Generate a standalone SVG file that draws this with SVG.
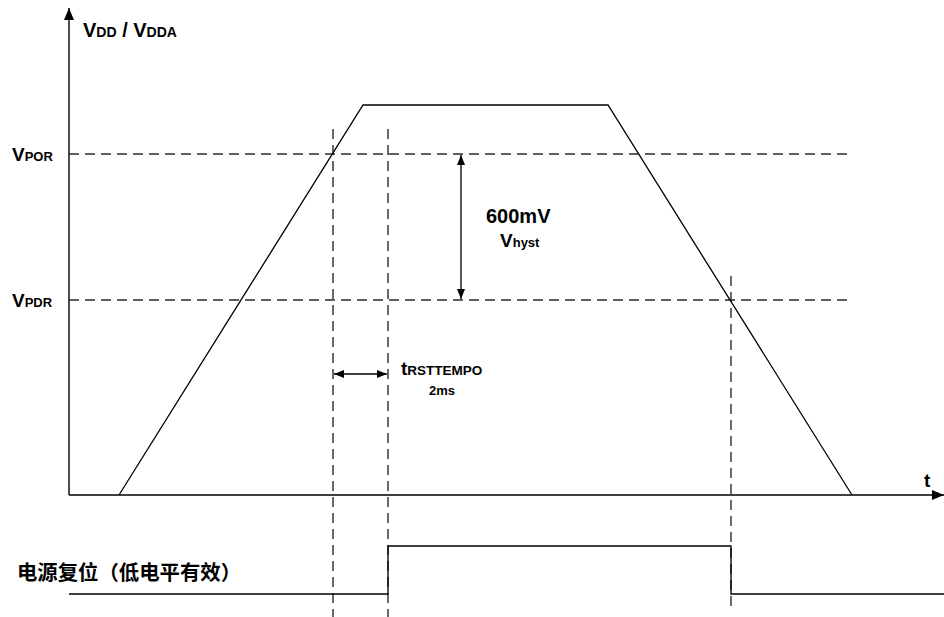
<svg xmlns="http://www.w3.org/2000/svg" width="944" height="617" viewBox="0 0 944 617">
<style>
.ax{stroke:#000;stroke-width:1.4;fill:none}
.sig{stroke:#000;stroke-width:1.3;fill:none}
.dash{stroke:#2a2a2a;stroke-width:1.4;stroke-dasharray:10 6;fill:none}
.t{font-family:"Liberation Sans",Arial,sans-serif;font-weight:bold;fill:#000}
.cjk{font-family:"Liberation Sans","Noto Sans CJK SC",sans-serif;font-weight:bold;fill:#000}
</style>
<defs>
<marker id="ah" viewBox="0 0 10 8" refX="10" refY="4" markerWidth="10" markerHeight="8" markerUnits="userSpaceOnUse" orient="auto-start-reverse">
<path d="M0,0 L10,4 L0,8 Z" fill="#000"/>
</marker>
<marker id="axh" viewBox="0 0 12 10" refX="12" refY="5" markerWidth="12" markerHeight="10" markerUnits="userSpaceOnUse" orient="auto">
<path d="M0,0 L12,5 L0,10 Z" fill="#000"/>
</marker>
</defs>
<rect width="944" height="617" fill="#fff"/>
<g id="connectors">
<line id="y-axis" class="ax" x1="69" y1="495" x2="69" y2="8" marker-end="url(#axh)"/>
<line id="x-axis" class="ax" x1="69" y1="495" x2="944" y2="495" marker-end="url(#axh)"/>
<line class="dash" x1="69" y1="154" x2="852" y2="154"/>
<line class="dash" x1="69" y1="300" x2="852" y2="300"/>
<line class="dash" x1="333" y1="129" x2="333" y2="617"/>
<line class="dash" x1="388" y1="129" x2="388" y2="617"/>
<line class="dash" x1="731" y1="276" x2="731" y2="611"/>
<line id="hyst-arrow" class="sig" x1="461" y1="155" x2="461" y2="299" marker-start="url(#ah)" marker-end="url(#ah)"/>
<line id="trst-arrow" class="sig" x1="334" y1="374" x2="387" y2="374" marker-start="url(#ah)" marker-end="url(#ah)"/>
</g>
<g id="vdd-curve">
<polyline class="sig" points="119,495 363,105 608,105 852,495"/>
</g>
<g id="reset-signal">
<polyline class="sig" points="69,594 388,594 388,546 731,546 731,594 944,594"/>
</g>
<g id="labels">
<text class="t" x="83" y="37" font-size="20">V<tspan font-size="14">DD</tspan> / V<tspan font-size="14">DDA</tspan></text>
<text class="t" x="12" y="161" font-size="19">V<tspan font-size="13">POR</tspan></text>
<text class="t" x="12" y="307" font-size="19">V<tspan font-size="13">PDR</tspan></text>
<text class="t" x="486" y="223" font-size="20">600mV</text>
<text class="t" x="500" y="247" font-size="19">V<tspan font-size="13">hyst</tspan></text>
<text class="t" x="401" y="375" font-size="19">t<tspan font-size="13.5">RSTTEMPO</tspan></text>
<text class="t" x="429" y="395" font-size="13">2ms</text>
<text class="t" x="924" y="487" font-size="19">t</text>
<text class="cjk" x="17" y="580" font-size="20" textLength="224" lengthAdjust="spacingAndGlyphs">电源复位（低电平有效）</text>
</g>
</svg>
